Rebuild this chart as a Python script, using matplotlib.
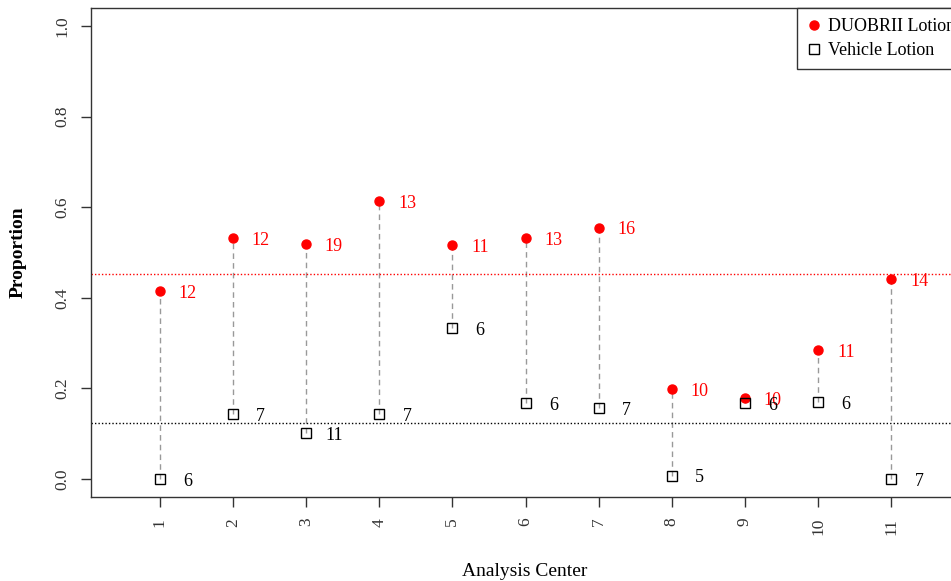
import matplotlib
matplotlib.use("Agg")
import matplotlib.pyplot as plt
import numpy as np

centers = [1, 2, 3, 4, 5, 6, 7, 8, 9, 10, 11]
duobrii = [0.415, 0.532, 0.518, 0.613, 0.516, 0.532, 0.555, 0.199, 0.179, 0.285, 0.441]
vehicle = [0.0, 0.143, 0.101, 0.143, 0.333, 0.168, 0.157, 0.007, 0.168, 0.170, 0.0]
n_duobrii = [12, 12, 19, 13, 11, 13, 16, 10, 10, 11, 14]
n_vehicle = [6, 7, 11, 7, 6, 6, 7, 5, 6, 6, 7]
overall_duobrii = 0.452
overall_vehicle = 0.124

plt.rcParams['font.family'] = ['Liberation Serif', 'DejaVu Serif']

fig = plt.figure(figsize=(9.51, 5.81), dpi=100)
ax = fig.add_axes([91/951, 1 - 497/581, (960 - 91)/951, (497 - 8)/581])

x = np.array(centers)
for xi, d, v in zip(x, duobrii, vehicle):
    ax.plot([xi, xi], [v, d], color='#999999', ls=(0, (4, 3)), lw=1, zorder=1)

ax.axhline(overall_duobrii, color='red', ls=(0, (1, 1.5)), lw=1, zorder=1)
ax.axhline(overall_vehicle, color='black', ls=(0, (1, 1.5)), lw=1, zorder=1)

ax.plot(x, duobrii, 'o', color='red', ms=6.5, ls='none', label='DUOBRII Lotion', zorder=3)
ax.plot(x, vehicle, 's', mfc='none', mec='black', mew=1, ms=7.5, ls='none', label='Vehicle Lotion', zorder=3)

for xi, d, n in zip(x, duobrii, n_duobrii):
    ax.text(xi + 0.38, d - 0.005, str(n), color='red', fontsize=13, ha='center', va='center')
for xi, v, n in zip(x, vehicle, n_vehicle):
    ax.text(xi + 0.38, v - 0.005, str(n), color='black', fontsize=13, ha='center', va='center')

ax.set_xlim(0.06, 11.94)
ax.set_ylim(-0.04, 1.04)
ax.set_xticks(centers)
ax.set_xticklabels([str(c) for c in centers], rotation=90, fontsize=12.5, color='#333333')
ax.set_yticks([0.0, 0.2, 0.4, 0.6, 0.8, 1.0])
ax.set_yticklabels(['0.0', '0.2', '0.4', '0.6', '0.8', '1.0'], rotation=90, va='center', fontsize=12.5, color='#333333')
ax.tick_params(direction='out', length=7, width=1, color='#333333', pad=8)
for s in ax.spines.values():
    s.set_color('#333333')
    s.set_linewidth(1)

fig.text(525/951, 1 - 571/581, 'Analysis Center', fontsize=14, ha='center', va='center')
fig.text(18/951, 1 - 252/581, 'Proportion', fontsize=14, fontweight='bold', rotation=90, ha='center', va='center')

leg = ax.legend(loc='upper right', bbox_to_anchor=(1.0 + 5/869, 1.0), borderaxespad=0, fancybox=False,
                edgecolor='#333333', fontsize=13, handlelength=0.7, handletextpad=0.45,
                borderpad=0.55, labelspacing=0.4, framealpha=1)
leg.get_frame().set_linewidth(1)

fig.savefig('out.png', dpi=100)
